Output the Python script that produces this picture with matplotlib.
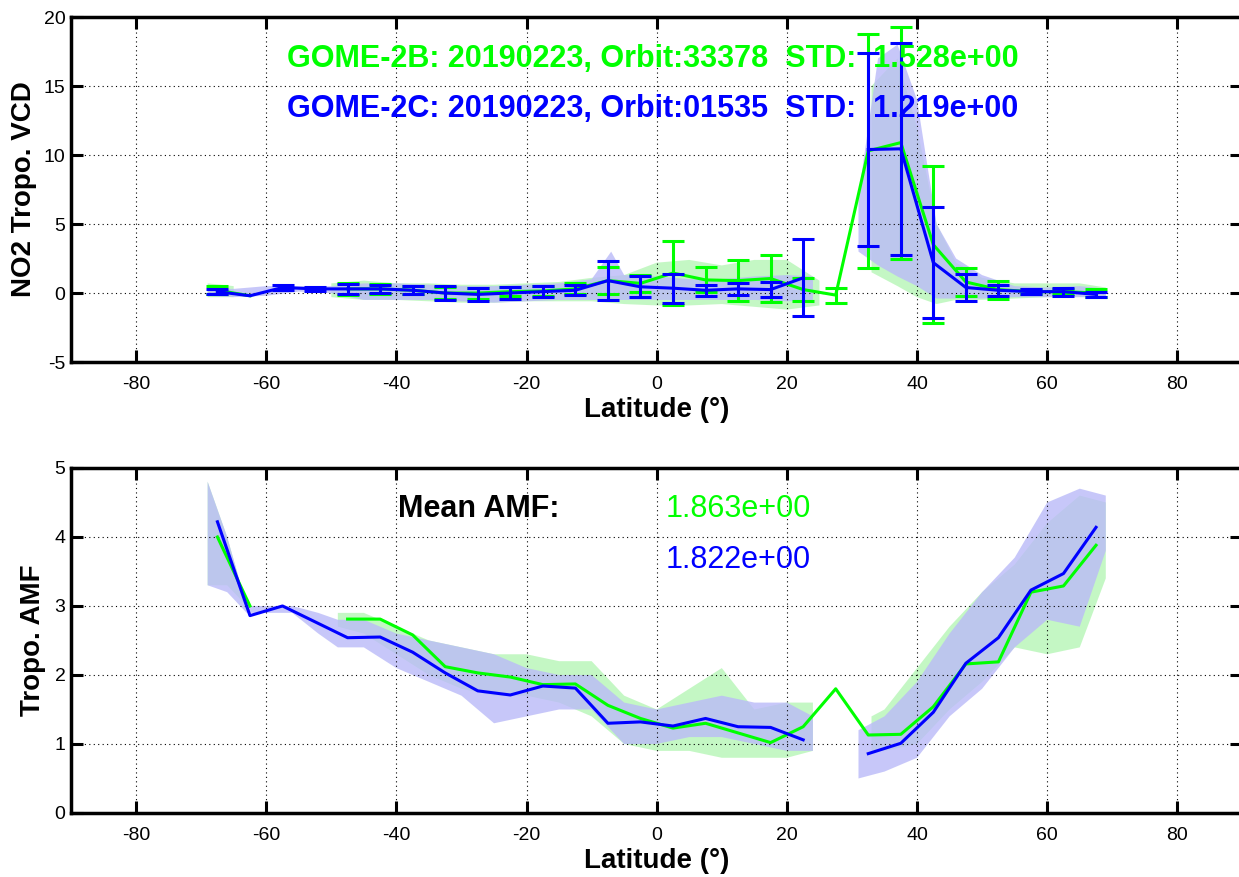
import numpy as np
import matplotlib
matplotlib.use('Agg')
import matplotlib.pyplot as plt

plt.rcParams['font.family'] = ['Liberation Sans', 'DejaVu Sans']
plt.rcParams['axes.unicode_minus'] = False

nan = np.nan
GREEN = '#00ff00'
BLUE = '#0000ff'
LIGHT_GREEN = '#b6f6b6'
LIGHT_BLUE = '#babaf8'

# 5 degree latitude bins
lat_bins = [-67.5, -62.5, -57.5, -52.5, -47.5, -42.5, -37.5, -32.5, -27.5, -22.5,
            -17.5, -12.5, -7.5, -2.5, 2.5, 7.5, 12.5, 17.5, 22.5, 27.5,
            32.5, 37.5, 42.5, 47.5, 52.5, 57.5, 62.5, 67.5]

# binned NO2 tropospheric VCD (mean, std)
vcd_2b = [0.2, -0.2, nan, nan, 0.3, 0.3, 0.2, 0.0, 0.0, 0.1,
          0.15, 0.3, 0.9, 0.7, 1.45, 0.95, 0.9, 1.05, 0.25, -0.15,
          10.3, 10.9, 3.5, 0.8, 0.25, 0.1, 0.1, 0.0]
vcd_2b_std = [0.3, nan, nan, nan, 0.45, 0.35, 0.3, 0.45, 0.4, 0.35,
              0.35, 0.4, 1.0, 0.6, 2.3, 0.9, 1.5, 1.7, 0.85, 0.55,
              8.5, 8.4, 5.7, 1.0, 0.65, 0.2, 0.2, 0.3]
vcd_2c = [0.1, -0.2, 0.4, 0.3, 0.3, 0.3, 0.2, 0.0, -0.1, 0.0,
          0.1, 0.2, 0.9, 0.45, 0.35, 0.2, 0.3, 0.25, 1.1, nan,
          10.4, 10.45, 2.2, 0.4, 0.2, 0.1, 0.1, -0.1]
vcd_2c_std = [0.2, nan, 0.2, 0.15, 0.35, 0.3, 0.3, 0.5, 0.5, 0.45,
              0.4, 0.35, 1.4, 0.75, 1.05, 0.4, 0.45, 0.55, 2.8, nan,
              7.0, 7.7, 4.0, 1.0, 0.4, 0.2, 0.3, 0.2]

# binned tropospheric AMF
amf_2b = [4.0, 3.0, nan, nan, 2.81, 2.81, 2.58, 2.12, 2.03, 1.97,
          1.86, 1.87, 1.56, 1.37, 1.23, 1.30, 1.16, 1.02, 1.25, 1.80,
          1.13, 1.14, 1.54, 2.16, 2.19, 3.20, 3.29, 3.88]
amf_2c = [4.22, 2.86, 3.0, 2.77, 2.54, 2.55, 2.33, 2.03, 1.77, 1.71,
          1.84, 1.81, 1.30, 1.32, 1.26, 1.37, 1.25, 1.24, 1.06, nan,
          0.86, 1.01, 1.46, 2.17, 2.54, 3.23, 3.47, 4.14]

# spread of the single pixels (lower / upper edge of the point clouds)
cloud_vcd_2b_lat = [-69, -65, nan, -50, -45, -40, -35, -30, -25, -20, -15, -10, -5, 0, 5, 10, 15, 20, 25,
                    nan, 33, 37, 40, 43, 46, 50, 55, 60, 65, 69]
cloud_vcd_2b_lo = [-0.3, -0.3, nan, -0.3, -0.5, -0.5, -0.6, -0.7, -0.7, -0.6, -0.6, -0.6, -0.8, -0.9, -0.9, -0.8, -1.0, -1.2, -0.9,
                   nan, 1.5, 0.5, -0.3, -0.8, -0.5, -0.5, -0.4, -0.3, -0.3, -0.3]
cloud_vcd_2b_hi = [0.7, 0.5, nan, 0.7, 0.9, 0.7, 0.7, 0.6, 0.6, 0.7, 0.8, 1.1, 1.3, 2.2, 2.4, 2.0, 2.4, 2.4, 0.9,
                   nan, 15, 17, 12, 5, 2.2, 1.1, 0.7, 0.7, 0.7, 0.4]
cloud_vcd_2c_lat = [-69, -65, -60, -55, -50, -45, -40, -35, -30, -25, -20, -15, -10, -7, -5, 0, 5, 10, 15, 20, 24,
                    nan, 31, 34, 37, 40, 43, 46, 50, 55, 60, 65, 69]
cloud_vcd_2c_lo = [-0.2, -0.3, -0.2, 0.1, 0.0, -0.5, -0.5, -0.5, -0.6, -0.7, -0.6, -0.5, -0.5, -0.5, -0.5, -0.5, -0.5, -0.5, -0.5, -0.6, -0.5,
                   nan, 3, 2, 1.2, 0.5, -0.4, -0.4, -0.4, -0.3, -0.3, -0.3, -0.3]
cloud_vcd_2c_hi = [0.3, 0.3, 0.5, 0.5, 0.5, 0.7, 0.7, 0.6, 0.5, 0.5, 0.6, 0.7, 1.0, 3.0, 1.3, 1.2, 1.0, 1.0, 1.2, 1.3, 1.2,
                   nan, 7, 17, 18, 14, 5, 2.5, 1.3, 0.5, 0.4, 0.5, 0.3]

cloud_amf_2b_lat = [-69, -66, -63, nan, -49, -45, -40, -35, -30, -25, -20, -15, -10, -5, 0, 5, 10, 15, 20, 24,
                    nan, 33, 35, 40, 45, 50, 55, 60, 65, 69]
cloud_amf_2b_lo = [3.3, 3.3, 3.0, nan, 2.7, 2.6, 2.3, 2.0, 1.8, 1.7, 1.7, 1.6, 1.4, 1.0, 0.9, 0.9, 0.8, 0.8, 0.8, 0.9,
                   nan, 0.9, 0.9, 1.0, 1.5, 1.9, 2.4, 2.3, 2.4, 3.4]
cloud_amf_2b_hi = [4.8, 4.0, 3.0, nan, 2.9, 2.9, 2.7, 2.5, 2.4, 2.3, 2.3, 2.2, 2.2, 1.7, 1.5, 1.8, 2.1, 1.5, 1.6, 1.6,
                   nan, 1.4, 1.5, 2.1, 2.7, 3.2, 3.6, 4.2, 4.6, 4.5]
cloud_amf_2c_lat = [-69, -66, -63, -60, -56, -52, -49, -45, -40, -35, -30, -25, -20, -15, -10, -5, 0, 5, 10, 15, 20, 24,
                    nan, 31, 35, 40, 45, 50, 55, 60, 65, 69]
cloud_amf_2c_lo = [3.3, 3.2, 2.9, 2.9, 2.9, 2.6, 2.4, 2.4, 2.1, 1.9, 1.7, 1.3, 1.4, 1.5, 1.5, 1.0, 1.0, 1.1, 1.1, 1.0, 0.9, 0.9,
                   nan, 0.5, 0.6, 0.8, 1.4, 1.8, 2.4, 2.8, 2.7, 3.8]
cloud_amf_2c_hi = [4.8, 4.0, 3.0, 3.0, 3.0, 2.9, 2.8, 2.8, 2.6, 2.5, 2.4, 2.3, 2.1, 2.0, 2.0, 1.6, 1.5, 1.6, 1.7, 1.6, 1.6, 1.4,
                   nan, 1.2, 1.4, 1.9, 2.6, 3.2, 3.7, 4.5, 4.7, 4.6]

text_2b = 'GOME-2B: 20190223, Orbit:33378  STD:  1.528e+00'
text_2c = 'GOME-2C: 20190223, Orbit:01535  STD:  1.219e+00'
mean_amf_2b = '1.863e+00'
mean_amf_2c = '1.822e+00'


def cloud(ax, x, lo, hi, color):
    x = np.array(x, dtype=float)
    lo = np.array(lo, dtype=float)
    hi = np.array(hi, dtype=float)
    ok = ~np.isnan(x)
    ax.fill_between(x, lo, hi, where=ok, color=color, alpha=0.8, lw=0, zorder=1)


def matlab_style(ax, yticks):
    ax.set_xlim(-90, 90)
    ax.set_ylim(yticks[0], yticks[-1])
    ax.set_xticks([-80, -60, -40, -20, 0, 20, 40, 60, 80])
    ax.set_yticks(yticks)
    ax.grid(True, color='k', linestyle=(0, (1, 3)), linewidth=0.8)
    ax.tick_params(direction='in', length=8.5, width=2.2, top=True, right=True, labelsize=14)
    ax.tick_params(axis='x', pad=10)
    ax.tick_params(axis='y', pad=4)
    for s in ax.spines.values():
        s.set_linewidth(2.5)
    ax.set_xlabel('Latitude (°)', fontsize=20, fontweight='bold', labelpad=3)


fig = plt.figure(figsize=(12.39, 8.77), dpi=100)
ax1 = fig.add_axes([0.0573, 0.5872, 0.9455, 0.3934])
ax2 = fig.add_axes([0.0573, 0.0730, 0.9455, 0.3934])

# --- top: NO2 tropospheric VCD
cloud(ax1, cloud_vcd_2b_lat, cloud_vcd_2b_lo, cloud_vcd_2b_hi, LIGHT_GREEN)
cloud(ax1, cloud_vcd_2c_lat, cloud_vcd_2c_lo, cloud_vcd_2c_hi, LIGHT_BLUE)
ax1.errorbar(lat_bins, vcd_2b, yerr=vcd_2b_std, color=GREEN, lw=2.2,
             capsize=8, capthick=2.2, zorder=3)
ax1.errorbar(lat_bins, vcd_2c, yerr=vcd_2c_std, color=BLUE, lw=2.2,
             capsize=8, capthick=2.2, zorder=4)
matlab_style(ax1, [-5, 0, 5, 10, 15, 20])
ax1.set_ylabel('NO2 Tropo. VCD', fontsize=20, fontweight='bold', labelpad=5)
ax1.text(-56.8, 16.4, text_2b, color=GREEN, fontsize=22, fontweight='bold', zorder=5)
ax1.text(-56.8, 12.75, text_2c, color=BLUE, fontsize=22, fontweight='bold', zorder=5)

# --- bottom: tropospheric AMF
cloud(ax2, cloud_amf_2b_lat, cloud_amf_2b_lo, cloud_amf_2b_hi, LIGHT_GREEN)
cloud(ax2, cloud_amf_2c_lat, cloud_amf_2c_lo, cloud_amf_2c_hi, LIGHT_BLUE)
ax2.plot(lat_bins, amf_2b, color=GREEN, lw=2.2, zorder=3)
ax2.plot(lat_bins, amf_2c, color=BLUE, lw=2.2, zorder=4)
matlab_style(ax2, [0, 1, 2, 3, 4, 5])
ax2.set_ylabel('Tropo. AMF', fontsize=20, fontweight='bold', labelpad=6)
ax2.text(-39.7, 4.29, 'Mean AMF:', color='k', fontsize=22, fontweight='bold')
ax2.text(1.4, 4.29, mean_amf_2b, color=GREEN, fontsize=22)
ax2.text(1.4, 3.55, mean_amf_2c, color=BLUE, fontsize=22)

fig.savefig('out.png', dpi=100)
